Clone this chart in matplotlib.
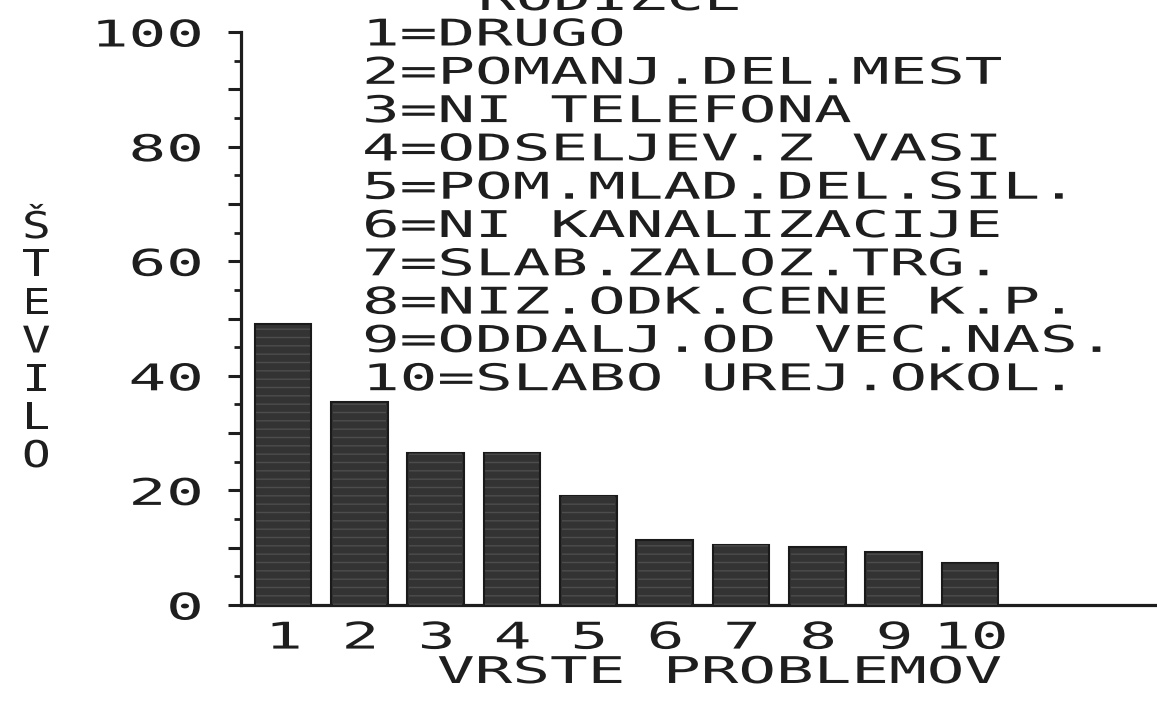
import matplotlib
matplotlib.use("Agg")
import matplotlib.pyplot as plt
from matplotlib.patheffects import AbstractPathEffect
from matplotlib.transforms import Affine2D
from matplotlib.ticker import MultipleLocator, FuncFormatter

# ---- data -------------------------------------------------------------
categories = [1, 2, 3, 4, 5, 6, 7, 8, 9, 10]
values = [49.0, 35.5, 26.5, 26.5, 19.0, 11.3, 10.4, 10.1, 9.3, 7.4]
problem_labels = [
    "1=DRUGO",
    "2=POMANJ.DEL.MEST",
    "3=NI TELEFONA",
    "4=ODSELJEV.Z VASI",
    "5=POM.MLAD.DEL.SIL.",
    "6=NI KANALIZACIJE",
    "7=SLAB.ZALOZ.TRG.",
    "8=NIZ.ODK.CENE K.P.",
    "9=ODDALJ.OD VEC.NAS.",
    "10=SLABO UREJ.OKOL.",
]
title_text = "RODIZCE"
x_title = "VRSTE PROBLEMOV"
y_title = "ŠTEVILO"

W, H = 1157, 702
INK = "#1e1e1e"
FONT = "DejaVu Sans Mono"
FSIZE = 26.5


class WideGlyphs(AbstractPathEffect):
    """Draws text glyphs stretched horizontally, like a dot-matrix printer."""

    def __init__(self, sx=1.7, anchor="left"):
        super().__init__()
        self.sx = sx
        self.anchor = anchor

    def draw_path(self, renderer, gc, tpath, affine, rgbFace=None):
        xs = tpath.vertices[:, 0]
        if len(xs) == 0:
            return
        if self.anchor == "left":
            x0 = 0.0
        elif self.anchor == "right":
            x0 = xs.max()
        else:
            x0 = 0.5 * (xs.min() + xs.max())
        stretch = Affine2D().translate(-x0, 0).scale(self.sx, 1.0).translate(x0, 0)
        renderer.draw_path(gc, tpath, stretch + affine, rgbFace)


def ptext(x, y, s, anchor="left", **kw):
    """Place text at pixel coordinates (origin top-left)."""
    return fig.text(x / W, 1 - y / H, s, family=FONT, size=FSIZE, color=INK,
                    ha=anchor, path_effects=[WideGlyphs(anchor=anchor)], **kw)


fig = plt.figure(figsize=(W / 100, H / 100), dpi=100)
ax = fig.add_axes([241 / W, 97 / H, 916 / W, 573 / H])

ax.bar(categories, values, width=0.74, color="#333333", edgecolor="#1a1a1a",
       linewidth=1.5, zorder=2)
# faint horizontal print streaks across the bar fill
ax.bar(categories, values, width=0.70, color="none", edgecolor="#4d4d4d",
       linewidth=0, hatch="--", zorder=3)

ax.set_xlim(0.45, 12.45)
ax.set_ylim(0, 100)

for side in ("top", "right"):
    ax.spines[side].set_visible(False)
for side in ("left", "bottom"):
    ax.spines[side].set_linewidth(2.3)
    ax.spines[side].set_color(INK)

ax.yaxis.set_major_locator(MultipleLocator(10))
ax.yaxis.set_minor_locator(MultipleLocator(5))
ax.yaxis.set_major_formatter(FuncFormatter(lambda v, p: f"{int(v)}" if int(v) % 20 == 0 else ""))
ax.tick_params(axis="y", which="major", length=9.5, width=2.2, color=INK, pad=18.5,
               labelsize=FSIZE, labelcolor=INK)
ax.tick_params(axis="y", which="minor", length=5, width=2.0, color=INK)
ax.set_xticks(categories)
ax.set_xticklabels([str(c) for c in categories])
ax.tick_params(axis="x", length=0, pad=10.5, labelsize=FSIZE, labelcolor=INK)

for lab in ax.get_yticklabels():
    lab.set_family(FONT)
    lab.set_path_effects([WideGlyphs(anchor="right")])
for lab in ax.get_xticklabels():
    lab.set_family(FONT)
    lab.set_path_effects([WideGlyphs(anchor="center")])

# heading (runs off the top edge of the sheet)
ptext(478, 10, title_text, va="baseline")

# key of problem types
for i, line in enumerate(problem_labels):
    ptext(362, 45.5 + i * 38.3, line, va="baseline")

# axis titles
ptext(437, 683, x_title, va="baseline")
fig.text(36 / W, 1 - 342 / H, "\n".join(y_title), family=FONT, size=FSIZE, color=INK,
         ha="center", va="center", linespacing=1.04,
         path_effects=[WideGlyphs(sx=1.3, anchor="center")])

fig.savefig("out.png", dpi=100, facecolor="white")
